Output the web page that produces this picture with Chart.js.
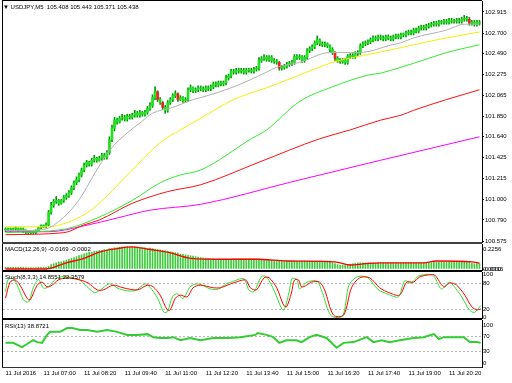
<!DOCTYPE html>
<html>
<head>
<meta charset="utf-8">
<script src="https://cdn.jsdelivr.net/npm/chart.js@4.4.0/dist/chart.umd.min.js"></script>
<style>
  body { margin: 0; background: #fff; }
  #wrap { position: relative; width: 512px; height: 383px; overflow: hidden; background: #fff;
          font-family: "Liberation Sans", Arial, sans-serif; }
  .pane { position: absolute; left: 0; width: 512px; }
  .rule { position: absolute; }
  .lbl { position: absolute; font-size: 6px; line-height: 8px; color: #000; white-space: nowrap; }
</style>
</head>
<body>
<div id="wrap">
  <!-- window frame and panel separators (under the canvases so axis labels stay readable) -->
  <div class="rule" style="left:2px;top:0;width:480px;height:1px;background:#000"></div>
  <div class="rule" style="left:2px;top:0;width:1px;height:368px;background:#000"></div>
  <div class="rule" style="left:2px;top:242px;width:480px;height:2px;background:#404040"></div>
  <div class="rule" style="left:2px;top:270px;width:480px;height:2px;background:#000"></div>
  <div class="rule" style="left:2px;top:318px;width:480px;height:2px;background:#000"></div>
  <div class="rule" style="left:2px;top:367px;width:480px;height:1px;background:#303030"></div>

  <div class="pane" style="top:-5px;height:252px"><canvas id="mainChart"></canvas></div>
  <div class="pane" style="top:239px;height:36px"><canvas id="macdChart"></canvas></div>
  <div class="pane" style="top:267px;height:56px"><canvas id="stochChart"></canvas></div>
  <div class="pane" style="top:315px;height:68px"><canvas id="rsiChart"></canvas></div>

  <div class="lbl" style="left:3px;top:3px">&#9660; USDJPY,M5&nbsp; 105.408 105.443 105.371 105.438</div>
  <div class="lbl" style="left:5px;top:245px">MACD(12,26,9) -0.0169 -0.0002</div>
  <div class="lbl" style="left:5px;top:273px">Stoch(8,3,3) 14.8551 22.3579</div>
  <div class="lbl" style="left:5px;top:322px">RSI(13) 38.8721</div>
</div>

<script>
'use strict';

// M5 candles, bar 0 = 05:45
const opens = [
  100.70, 100.69, 100.70, 100.69, 100.70, 100.70, 100.69, 100.70, 100.68, 100.67,
  100.66, 100.67, 100.66, 100.68, 100.71, 100.73, 100.72, 100.74, 100.87, 100.94,
  100.98, 100.99, 100.96, 100.99, 101.02, 101.04, 101.07, 101.12, 101.17, 101.20,
  101.25, 101.30, 101.35, 101.38, 101.36, 101.40, 101.42, 101.40, 101.42, 101.45,
  101.43, 101.48, 101.61, 101.73, 101.81, 101.79, 101.83, 101.84, 101.82, 101.85,
  101.84, 101.86, 101.88, 101.86, 101.89, 101.87, 101.89, 101.93, 101.96, 102.04,
  102.10, 102.02, 101.99, 101.94, 101.91, 101.99, 102.02, 102.06, 102.08, 102.02,
  102.04, 102.01, 102.02, 102.12, 102.14, 102.11, 102.12, 102.14, 102.13, 102.12,
  102.14, 102.13, 102.15, 102.18, 102.17, 102.19, 102.18, 102.19, 102.24, 102.26,
  102.31, 102.30, 102.32, 102.31, 102.32, 102.30, 102.32, 102.32, 102.31, 102.33,
  102.34, 102.42, 102.44, 102.45, 102.43, 102.45, 102.42, 102.41, 102.40, 102.34,
  102.35, 102.36, 102.38, 102.39, 102.40, 102.46, 102.45, 102.46, 102.42, 102.45,
  102.52, 102.54, 102.56, 102.60, 102.63, 102.59, 102.58, 102.59, 102.57, 102.53,
  102.50, 102.44, 102.42, 102.41, 102.42, 102.40, 102.46, 102.47, 102.46, 102.49,
  102.50, 102.57, 102.59, 102.60, 102.61, 102.63, 102.65, 102.64, 102.66, 102.65,
  102.64, 102.66, 102.65, 102.64, 102.66, 102.67, 102.66, 102.68, 102.68, 102.70,
  102.71, 102.70, 102.73, 102.72, 102.75, 102.76, 102.75, 102.77, 102.78, 102.79,
  102.80, 102.79, 102.81, 102.81, 102.82, 102.81, 102.83, 102.82, 102.82, 102.83,
  102.82, 102.84, 102.85, 102.84, 102.80, 102.81, 102.79, 102.81
];
const highs = [
  100.71, 100.71, 100.71, 100.71, 100.72, 100.71, 100.71, 100.71, 100.69, 100.68,
  100.68, 100.68, 100.69, 100.72, 100.74, 100.74, 100.76, 100.89, 100.97, 101.00,
  101.03, 101.00, 101.00, 101.04, 101.06, 101.09, 101.14, 101.19, 101.23, 101.27,
  101.32, 101.37, 101.40, 101.39, 101.42, 101.45, 101.43, 101.44, 101.47, 101.47,
  101.50, 101.64, 101.76, 101.84, 101.83, 101.85, 101.87, 101.86, 101.87, 101.87,
  101.88, 101.91, 101.90, 101.91, 101.90, 101.91, 101.95, 101.99, 102.07, 102.15,
  102.11, 102.04, 102.00, 101.96, 102.01, 102.04, 102.08, 102.11, 102.09, 102.06,
  102.05, 102.04, 102.14, 102.17, 102.15, 102.14, 102.16, 102.16, 102.15, 102.16,
  102.16, 102.17, 102.20, 102.20, 102.21, 102.21, 102.21, 102.27, 102.28, 102.33,
  102.33, 102.34, 102.34, 102.34, 102.34, 102.34, 102.34, 102.34, 102.35, 102.36,
  102.45, 102.46, 102.48, 102.47, 102.47, 102.47, 102.44, 102.43, 102.41, 102.37,
  102.38, 102.40, 102.41, 102.42, 102.48, 102.48, 102.48, 102.47, 102.47, 102.54,
  102.56, 102.58, 102.62, 102.67, 102.64, 102.61, 102.61, 102.60, 102.58, 102.55,
  102.51, 102.46, 102.44, 102.44, 102.44, 102.48, 102.49, 102.49, 102.51, 102.52,
  102.59, 102.61, 102.62, 102.63, 102.65, 102.67, 102.67, 102.68, 102.68, 102.67,
  102.68, 102.68, 102.67, 102.68, 102.69, 102.69, 102.70, 102.70, 102.72, 102.73,
  102.73, 102.75, 102.75, 102.77, 102.78, 102.78, 102.79, 102.80, 102.81, 102.82,
  102.82, 102.83, 102.83, 102.84, 102.84, 102.85, 102.85, 102.84, 102.85, 102.85,
  102.86, 102.88, 102.87, 102.86, 102.83, 102.83, 102.83, 102.83
];
const lows = [
  100.67, 100.68, 100.67, 100.68, 100.68, 100.67, 100.68, 100.66, 100.65, 100.64,
  100.65, 100.65, 100.65, 100.67, 100.70, 100.71, 100.71, 100.73, 100.85, 100.92,
  100.96, 100.94, 100.95, 100.97, 101.00, 101.02, 101.05, 101.10, 101.15, 101.18,
  101.23, 101.28, 101.33, 101.34, 101.34, 101.38, 101.38, 101.39, 101.40, 101.41,
  101.41, 101.46, 101.59, 101.70, 101.77, 101.78, 101.81, 101.80, 101.80, 101.82,
  101.82, 101.84, 101.84, 101.84, 101.85, 101.85, 101.87, 101.91, 101.94, 102.02,
  102.00, 101.97, 101.92, 101.88, 101.89, 101.97, 102.00, 102.04, 102.00, 102.01,
  101.99, 101.99, 102.00, 102.10, 102.09, 102.09, 102.10, 102.11, 102.10, 102.10,
  102.11, 102.11, 102.13, 102.15, 102.15, 102.16, 102.16, 102.17, 102.22, 102.24,
  102.28, 102.28, 102.29, 102.29, 102.28, 102.28, 102.30, 102.29, 102.29, 102.31,
  102.32, 102.40, 102.42, 102.41, 102.41, 102.40, 102.39, 102.38, 102.32, 102.32,
  102.33, 102.34, 102.36, 102.37, 102.38, 102.43, 102.43, 102.40, 102.40, 102.43,
  102.50, 102.52, 102.54, 102.58, 102.57, 102.56, 102.56, 102.55, 102.51, 102.48,
  102.42, 102.40, 102.39, 102.39, 102.38, 102.38, 102.44, 102.44, 102.44, 102.47,
  102.48, 102.55, 102.57, 102.58, 102.59, 102.61, 102.62, 102.62, 102.63, 102.62,
  102.62, 102.63, 102.62, 102.62, 102.64, 102.64, 102.64, 102.66, 102.66, 102.68,
  102.68, 102.68, 102.70, 102.70, 102.73, 102.73, 102.73, 102.75, 102.76, 102.77,
  102.77, 102.77, 102.79, 102.79, 102.79, 102.79, 102.80, 102.80, 102.80, 102.80,
  102.80, 102.82, 102.82, 102.78, 102.78, 102.77, 102.77, 102.78
];
const closes = [
  100.69, 100.70, 100.69, 100.70, 100.70, 100.69, 100.70, 100.68, 100.67, 100.66,
  100.67, 100.66, 100.68, 100.71, 100.73, 100.72, 100.74, 100.87, 100.94, 100.98,
  100.99, 100.96, 100.99, 101.02, 101.04, 101.07, 101.12, 101.17, 101.20, 101.25,
  101.30, 101.35, 101.38, 101.36, 101.40, 101.42, 101.40, 101.42, 101.45, 101.43,
  101.48, 101.61, 101.73, 101.81, 101.79, 101.83, 101.84, 101.82, 101.85, 101.84,
  101.86, 101.88, 101.86, 101.89, 101.87, 101.89, 101.93, 101.96, 102.04, 102.10,
  102.02, 101.99, 101.94, 101.91, 101.99, 102.02, 102.06, 102.08, 102.02, 102.04,
  102.01, 102.02, 102.12, 102.14, 102.11, 102.12, 102.14, 102.13, 102.12, 102.14,
  102.13, 102.15, 102.18, 102.17, 102.19, 102.18, 102.19, 102.24, 102.26, 102.31,
  102.30, 102.32, 102.31, 102.32, 102.30, 102.32, 102.32, 102.31, 102.33, 102.34,
  102.42, 102.44, 102.45, 102.43, 102.45, 102.42, 102.41, 102.40, 102.34, 102.35,
  102.36, 102.38, 102.39, 102.40, 102.46, 102.45, 102.46, 102.42, 102.45, 102.52,
  102.54, 102.56, 102.60, 102.63, 102.59, 102.58, 102.59, 102.57, 102.53, 102.50,
  102.44, 102.42, 102.41, 102.42, 102.40, 102.46, 102.47, 102.46, 102.49, 102.50,
  102.57, 102.59, 102.60, 102.61, 102.63, 102.65, 102.64, 102.66, 102.65, 102.64,
  102.66, 102.65, 102.64, 102.66, 102.67, 102.66, 102.68, 102.68, 102.70, 102.71,
  102.70, 102.73, 102.72, 102.75, 102.76, 102.75, 102.77, 102.78, 102.79, 102.80,
  102.79, 102.81, 102.81, 102.82, 102.81, 102.83, 102.82, 102.82, 102.83, 102.82,
  102.84, 102.85, 102.84, 102.80, 102.81, 102.79, 102.81, 102.80
];

// moving averages (bar index, price)
const maGrayIdx = [0, 14, 18, 28, 36, 41, 48, 53, 58, 66, 74, 77, 90, 103, 107, 116, 128, 136, 143, 151, 156, 161, 174, 181, 187];
const maGray = [100.68, 100.69, 100.72, 100.96, 101.30, 101.50, 101.68, 101.78, 101.88, 101.94, 102.02, 102.04, 102.15, 102.30, 102.35, 102.40, 102.50, 102.50, 102.51, 102.57, 102.60, 102.65, 102.73, 102.79, 102.79];
const maYellowIdx = [0, 16, 24, 32, 37, 50, 61, 69, 77, 90, 103, 116, 129, 143, 156, 161, 174, 187];
const maYellow = [100.72, 100.72, 100.76, 100.86, 100.96, 101.30, 101.58, 101.71, 101.83, 102.02, 102.14, 102.27, 102.40, 102.48, 102.55, 102.58, 102.65, 102.71];
const maGreenIdx = [0, 24, 37, 50, 61, 69, 77, 97, 103, 116, 129, 143, 148, 156, 161, 174, 187];
const maGreen = [100.66, 100.70, 100.82, 100.99, 101.17, 101.25, 101.30, 101.62, 101.71, 102.00, 102.15, 102.27, 102.29, 102.35, 102.39, 102.50, 102.58];
const maRedIdx = [0, 23, 31, 37, 50, 64, 77, 100, 124, 136, 148, 156, 161, 174, 187];
const maRed = [100.64, 100.66, 100.74, 100.79, 100.96, 101.08, 101.15, 101.38, 101.62, 101.71, 101.81, 101.86, 101.91, 102.02, 102.12];
const maMagentaIdx = [0, 17, 31, 44, 57, 77, 113, 148, 187];
const maMagenta = [100.67, 100.67, 100.73, 100.81, 100.89, 100.95, 101.18, 101.40, 101.64];

// MACD histogram, one value per bar
const macdHist = [
  0.02, 0.02, 0.02, 0.02, 0.02, 0.02, 0.02, 0.02, 0.015, 0.015, 0.015, 0.015, 0.015, 0.02, 0.02, 0.02, 0.02,
  0.03, 0.05, 0.06, 0.07,
  0.08, 0.08, 0.09, 0.10,
  0.11, 0.12, 0.13, 0.14, 0.15, 0.16,
  0.17, 0.18, 0.19, 0.19, 0.20, 0.20, 0.21,
  0.21, 0.22, 0.22, 0.23, 0.23, 0.24, 0.24,
  0.245, 0.25, 0.25, 0.25, 0.25, 0.25, 0.25, 0.245,
  0.24, 0.24, 0.24, 0.235, 0.235, 0.23,
  0.225, 0.22, 0.215, 0.21, 0.205,
  0.20, 0.195, 0.19, 0.185, 0.18,
  0.17, 0.165, 0.16, 0.155, 0.15, 0.145,
  0.14, 0.135, 0.13, 0.125, 0.12, 0.12,
  0.115, 0.115, 0.11, 0.11, 0.11, 0.11, 0.11, 0.11,
  0.11, 0.115, 0.115, 0.115, 0.115, 0.115, 0.115, 0.115, 0.115, 0.115, 0.115, 0.115,
  0.11, 0.11, 0.11, 0.105, 0.10, 0.10, 0.10, 0.095, 0.09, 0.09,
  0.09, 0.09, 0.09, 0.09, 0.09, 0.09, 0.09, 0.09, 0.09, 0.09, 0.09, 0.09, 0.09, 0.09, 0.09, 0.09, 0.09, 0.09,
  0.07, 0.06, 0.05, 0.045, 0.045, 0.045, 0.05, 0.055,
  0.06, 0.065, 0.07, 0.07, 0.07, 0.07, 0.07, 0.07, 0.07, 0.07, 0.07, 0.07, 0.07, 0.07,
  0.07, 0.07, 0.07, 0.07, 0.07, 0.07, 0.07, 0.07, 0.07, 0.07, 0.07, 0.07, 0.07, 0.07, 0.07, 0.07, 0.07, 0.07,
  0.08, 0.08, 0.08, 0.08, 0.08, 0.08, 0.08, 0.08, 0.08, 0.08, 0.08, 0.08, 0.08, 0.08, 0.08,
  0.065, 0.06, 0.06, 0.06
];
const macdSignalIdx = [0, 16, 24, 31, 37, 44, 50, 57, 64, 73, 85, 99, 111, 130, 136, 142, 148, 165, 170, 184, 187];
const macdSignal = [0.0, 0.0, 0.07, 0.12, 0.19, 0.23, 0.25, 0.22, 0.19, 0.12, 0.11, 0.11, 0.09, 0.08, 0.045, 0.06, 0.07, 0.07, 0.09, 0.08, 0.065];

// Stochastic (8,3,3)
const stochMainIdx = [0, 1, 3, 5, 7, 9, 11, 13, 15, 17, 20, 23, 29, 31, 35, 37, 41, 45, 51, 55, 57, 60, 62.5, 64, 66, 68, 70, 73, 76, 81, 84, 87, 89, 94, 96, 98, 101, 103, 106, 109, 110, 112, 113, 115, 116, 118, 120, 123, 125, 128.5, 133, 135.5, 139, 143, 147, 151, 155, 157.5, 160, 163, 167, 169, 172, 175, 177, 180, 183, 185, 187.5];
const stochMain = [60, 88, 90, 70, 42, 36, 70, 88, 68, 72, 90, 95, 88, 78, 58, 62, 78, 66, 62, 78, 70, 45, 12, 15, 50, 55, 44, 72, 78, 66, 66, 78, 82, 90, 64, 60, 95, 94, 62, 20, 18, 62, 90, 88, 66, 78, 84, 84, 58, 4, 4, 75, 95, 92, 65, 54, 48, 85, 80, 96, 100, 96, 66, 82, 72, 48, 18, 12, 28];
const stochSignalIdx = [0, 1.8, 3.8, 5.7, 8.5, 9.7, 12.5, 14.4, 16.4, 18.4, 20.8, 24.3, 29.4, 32.6, 36.2, 38.5, 42.5, 46.4, 52, 56, 58.3, 61, 63.8, 65, 67, 69, 71.7, 74, 76.9, 82, 84.8, 87.5, 89.9, 94.7, 96.6, 99, 102, 104, 107, 109.7, 110.9, 112.8, 114, 115.6, 116.8, 118.8, 120.7, 123.9, 125.9, 129.4, 133.4, 136.5, 139.7, 143.7, 147.6, 151.6, 155.5, 158.3, 161, 163.4, 167.4, 169.4, 172.9, 175.3, 178, 181.2, 184, 186, 187.5];
const stochSignal = [45, 82, 87, 75, 45, 41, 75, 82, 71, 75, 87, 92, 87, 80, 64, 64, 75, 69, 64, 75, 71, 52, 18, 18, 45, 52, 48, 69, 75, 69, 69, 75, 80, 87, 69, 64, 92, 92, 69, 29, 25, 57, 87, 87, 71, 75, 82, 82, 64, 6, 6, 69, 92, 92, 69, 57, 52, 82, 82, 94, 99, 98, 71, 80, 75, 52, 25, 18, 20];

// RSI (13)
const rsiIdx = [0, 3, 6.5, 8.5, 10.9, 12.5, 14.4, 16.4, 17.6, 21.5, 24.3, 26.3, 29.4, 32.2, 36.2, 40.1, 44, 48, 52, 56, 58.3, 61, 63.8, 66.2, 69, 72.9, 76.9, 82, 87.5, 92.7, 98.6, 99.5, 103, 105.7, 108, 110.9, 114.8, 116.8, 120, 122.7, 126.7, 130.6, 133.4, 137.3, 142.5, 145.2, 148.4, 151.6, 155.5, 161, 165, 169, 171, 172.9, 178, 180.8, 183.2, 186, 187.5];
const rsi = [53, 53, 42, 50, 60, 55, 53, 74, 82, 82, 92, 92, 87, 87, 82, 87, 82, 74, 74, 76, 68, 66, 66, 68, 60, 66, 60, 66, 66, 68, 74, 79, 74, 68, 53, 60, 60, 55, 68, 74, 66, 40, 53, 55, 68, 55, 60, 55, 60, 66, 68, 76, 63, 68, 68, 68, 55, 55, 53];

// axes
const priceTicks = [100.575, 100.790, 101.000, 101.215, 101.425, 101.640, 101.850, 102.065, 102.275, 102.490, 102.700, 102.915];
const macdTicks = [0.2256, 0.0, 0.0];
const macdTickLabels = ['0.2256', '0.0000', '-0.0316'];
const stochTicks = [100, 80, 20, 0];
const stochLevels = [80, 20];
const rsiTicks = [100, 70, 30, 0];
const rsiLevels = [70, 30];
const xTickIdx = [0, 15, 31, 47, 63, 79, 95, 111, 127, 143, 159, 175];
const xTickLabels = ['11 Jul 2016', '11 Jul 07:00', '11 Jul 08:20', '11 Jul 09:40', '11 Jul 11:00', '11 Jul 12:20',
  '11 Jul 13:40', '11 Jul 15:00', '11 Jul 16:20', '11 Jul 17:40', '11 Jul 19:00', '11 Jul 20:20'];

Chart.defaults.font.family = '"Liberation Sans", Arial, sans-serif';
Chart.defaults.font.size = 6;
Chart.defaults.color = '#000';
Chart.defaults.animation = false;
Chart.defaults.events = [];
Chart.defaults.plugins.legend.display = false;
Chart.defaults.plugins.tooltip.enabled = false;
Chart.defaults.elements.point.radius = 0;

const pts = (idx, vals) => idx.map((x, k) => ({ x, y: vals[k] }));

// shared horizontal scale, bar index -1 .. 188
function xAxis(showLabels) {
  const axis = {
    type: 'linear', min: -1, max: 188, offset: false, display: showLabels,
    grid: { display: false, drawTicks: false }, border: { display: false },
  };
  if (showLabels) {
    axis.afterBuildTicks = (s) => { s.ticks = xTickIdx.map((v) => ({ value: v })); };
    axis.afterFit = (s) => { s.height = 16; };
    axis.ticks = {
      autoSkip: false, maxRotation: 0, minRotation: 0, align: 'start', padding: 3,
      callback: (v) => xTickLabels[xTickIdx.indexOf(v)],
    };
  }
  return axis;
}

// right-hand value axis with fixed width so every pane lines up
function yAxis(min, max, tickVals, fmt, levels, tickLen) {
  return {
    position: 'right', min, max,
    afterFit: (s) => { s.width = 30; },
    afterBuildTicks: (s) => { s.ticks = tickVals.map((v) => ({ value: v })); },
    ticks: { autoSkip: false, padding: 1, callback: fmt },
    grid: {
      drawOnChartArea: !!levels,
      color: (ctx) => (levels && ctx.tick && levels.includes(ctx.tick.value) ? '#b8b8b8' : 'rgba(0,0,0,0)'),
      drawTicks: tickLen > 0, tickLength: tickLen, tickColor: '#000',
    },
    border: { display: true, color: '#000', dash: [2, 2] },
  };
}

const bodyColors = closes.map((c, i) => (opens[i] - c >= 0.04 ? '#f02020' : '#22e022'));
const barIdx = closes.map((c, i) => i);

new Chart(document.getElementById('mainChart'), {
  type: 'bar',
  data: {
    datasets: [
      { type: 'line', data: pts(maGrayIdx, maGray), borderColor: '#b0b0b0', borderWidth: 1, cubicInterpolationMode: 'monotone', order: 1 },
      { type: 'line', data: pts(maYellowIdx, maYellow), borderColor: '#f2f000', borderWidth: 1, cubicInterpolationMode: 'monotone', order: 1 },
      { type: 'line', data: pts(maGreenIdx, maGreen), borderColor: '#33e833', borderWidth: 1, cubicInterpolationMode: 'monotone', order: 1 },
      { type: 'line', data: pts(maRedIdx, maRed), borderColor: '#ff1010', borderWidth: 1, cubicInterpolationMode: 'monotone', order: 1 },
      { type: 'line', data: pts(maMagentaIdx, maMagenta), borderColor: '#ff00ff', borderWidth: 1, cubicInterpolationMode: 'monotone', order: 1 },
      {
        data: barIdx.map((i) => ({ x: i, y: [opens[i], closes[i]] })),
        backgroundColor: bodyColors, barThickness: 2, minBarLength: 1, grouped: false, order: 2,
      },
      {
        data: barIdx.map((i) => ({ x: i, y: [lows[i], highs[i]] })),
        backgroundColor: '#009a00', barThickness: 1, grouped: false, order: 3,
      },
    ],
  },
  options: {
    responsive: true, maintainAspectRatio: false, devicePixelRatio: 1,
    layout: { padding: { top: 6, bottom: 5, left: 3, right: 0 } },
    scales: {
      x: xAxis(false),
      y: yAxis(100.565, 103.027, priceTicks, (v) => v.toFixed(3), null, 2),
    },
  },
});

new Chart(document.getElementById('macdChart'), {
  type: 'bar',
  data: {
    datasets: [
      { type: 'line', data: pts(macdSignalIdx, macdSignal), borderColor: '#ff0000', borderWidth: 1.3, cubicInterpolationMode: 'monotone', order: 1 },
      { data: macdHist.map((v, i) => ({ x: i, y: v })), backgroundColor: '#3ccc3c', barThickness: 1, grouped: false, order: 2 },
    ],
  },
  options: {
    responsive: true, maintainAspectRatio: false, devicePixelRatio: 1,
    layout: { padding: { top: 5, bottom: 5, left: 3, right: 0 } },
    scales: {
      x: xAxis(false),
      y: yAxis(-0.0113, 0.282, macdTicks, (v, i) => macdTickLabels[i], null, 0),
    },
  },
});

new Chart(document.getElementById('stochChart'), {
  type: 'line',
  data: {
    datasets: [
      { data: pts(stochSignalIdx, stochSignal), borderColor: '#ff0000', borderWidth: 1, tension: 0.3 },
      { data: pts(stochMainIdx, stochMain), borderColor: '#33dd33', borderWidth: 1, tension: 0.3 },
    ],
  },
  options: {
    responsive: true, maintainAspectRatio: false, devicePixelRatio: 1,
    layout: { padding: { top: 5, bottom: 5, left: 3, right: 0 } },
    scales: {
      x: xAxis(false),
      y: yAxis(-0.77, 105.4, stochTicks, (v) => String(v), stochLevels, 0),
    },
  },
});

new Chart(document.getElementById('rsiChart'), {
  type: 'line',
  data: {
    datasets: [
      { data: pts(rsiIdx, rsi), borderColor: '#33cc33', borderWidth: 2, tension: 0 },
    ],
  },
  options: {
    responsive: true, maintainAspectRatio: false, devicePixelRatio: 1,
    layout: { padding: { top: 5, bottom: 0, left: 3, right: 0 } },
    scales: {
      x: xAxis(true),
      y: yAxis(-10.5, 113.2, rsiTicks, (v) => String(v), rsiLevels, 0),
    },
  },
});
</script>
</body>
</html>
